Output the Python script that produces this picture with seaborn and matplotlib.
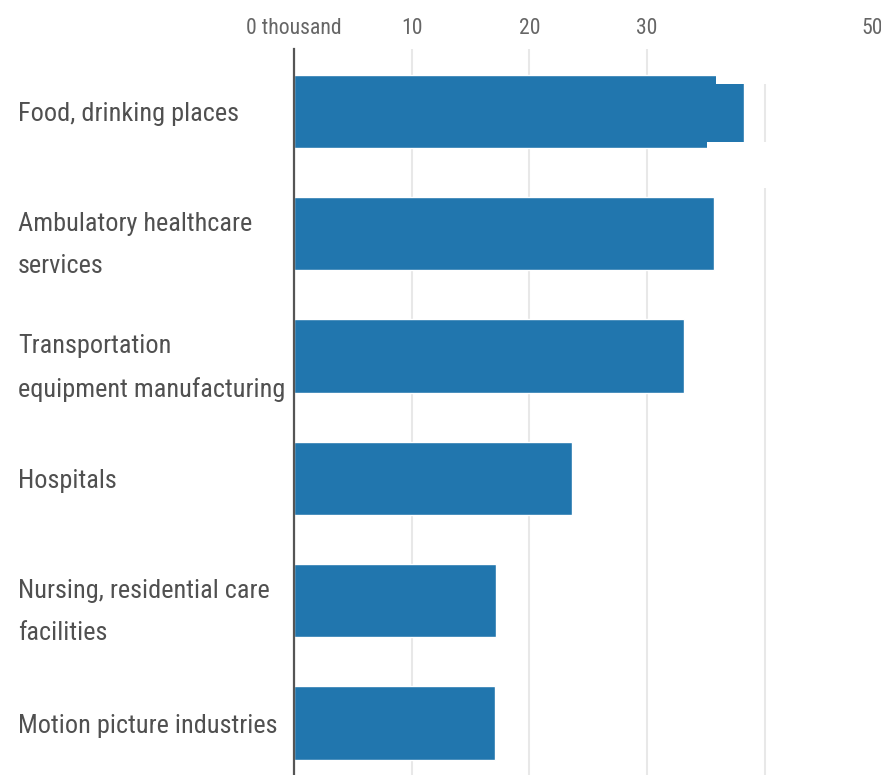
import matplotlib
matplotlib.use("Agg")
import matplotlib.pyplot as plt
import pandas as pd
import seaborn as sns
from matplotlib import font_manager as fm
from matplotlib.patches import Rectangle

# Industries and job counts (thousands)
industries = [
    "Food, drinking places",
    "Ambulatory healthcare\nservices",
    "Transportation\nequipment manufacturing",
    "Hospitals",
    "Nursing, residential care\nfacilities",
    "Motion picture industries",
]
jobs_thousands = [38.2, 35.7, 33.1, 23.6, 17.2, 17.1]

x_ticks = [0, 10, 20, 30, 40, 50]
x_tick_labels = ["0 thousand", "10", "20", "30", "40", "50"]

sns.set_theme(style="white")

# Prefer a narrow sans face when one is installed
fonts = fm.fontManager.ttflist
names = {f.name for f in fonts}
family, stretch = "DejaVu Sans", "normal"
for cand in ["Liberation Sans Narrow", "Roboto Condensed", "Open Sans Condensed", "Noto Sans Condensed"]:
    if cand in names:
        family = cand
        break
else:
    cond = [f for f in fonts if f.name in ("DejaVu Sans", "Noto Sans", "Open Sans", "Roboto")
            and str(f.stretch) in ("condensed", "semi-condensed")]
    if cond:
        family, stretch = cond[0].name, cond[0].stretch
    else:
        family = "Roboto" if "Roboto" in names else "DejaVu Sans"
plt.rcParams["font.family"] = [family, "DejaVu Sans"]
plt.rcParams["font.stretch"] = stretch

W, H = 881, 775
fig = plt.figure(figsize=(W / 100, H / 100), dpi=100)
ax = fig.add_axes([294 / W, 0, 588.5 / W, 726 / H])

df = pd.DataFrame({"industry": industries, "jobs": jobs_thousands})
sns.barplot(data=df, x="jobs", y="industry", orient="h", color="#2176ae",
            saturation=1, width=0.6, ax=ax)

ax.set_xlim(0, 50)
ax.set_ylim(5.425, -0.511)
ax.set_xlabel("")
ax.set_ylabel("")

ax.set_xticks(x_ticks)
ax.set_xticklabels(x_tick_labels)
ax.xaxis.tick_top()
ax.tick_params(axis="x", length=0, pad=7, labelsize=16, labelcolor="#666666")
ax.tick_params(axis="y", length=0, pad=198.7, labelsize=20.5, labelcolor="#505050")
for lab in ax.get_yticklabels():
    lab.set_ha("left")
    lab.set_linespacing(1.95)
ax.get_xticklabels()[-1].set_ha("right")

ax.grid(axis="x", color="#e8e8e8", lw=1.5)
ax.set_axisbelow(True)
for side in ["top", "right", "bottom"]:
    ax.spines[side].set_visible(False)
ax.spines["left"].set_color("#555555")
ax.spines["left"].set_linewidth(1.6)

# Fit the labels to the space available
fig.canvas.draw()
r = fig.canvas.get_renderer()
widest = max(lab.get_window_extent(r).width for lab in ax.get_yticklabels())
for lab in ax.get_yticklabels():
    lab.set_fontsize(20.5 * 267.0 / widest)
xlabs = ax.get_xticklabels()
first_w = xlabs[0].get_window_extent(r).width
for lab in xlabs:
    lab.set_fontsize(16 * 96.0 / first_w)

# White masking panels at the upper right
for x0, y0, x1, y1 in [(716, 0, 839, 84), (707, 142, 881, 188)]:
    fig.add_artist(Rectangle((x0 / W, 1 - y1 / H), (x1 - x0) / W, (y1 - y0) / H,
                             transform=fig.transFigure, facecolor="white",
                             edgecolor="none", zorder=10))

fig.savefig("out.png", dpi=100)
